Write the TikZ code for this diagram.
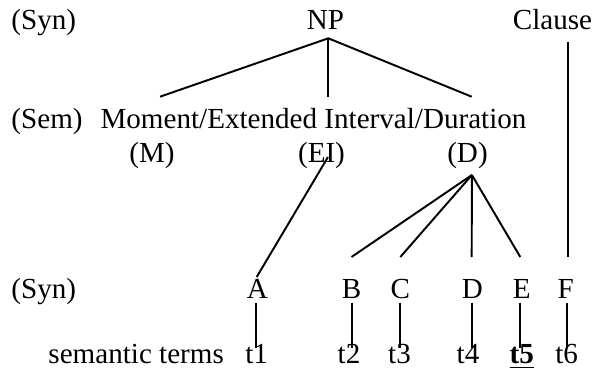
\documentclass[tikz,border=0pt]{standalone}
\usepackage{fontspec}
\setmainfont{Liberation Serif}
\begin{document}
\begin{tikzpicture}[x=0.41237pt,y=-0.41237pt,
  lbl/.style={inner sep=0pt,anchor=base,font=\fontsize{12}{14}\selectfont},
  lblw/.style={inner sep=0pt,anchor=base west,font=\fontsize{12}{14}\selectfont},
  edge/.style={line width=0.8pt,line cap=butt}]
\useasboundingbox (0,0) rectangle (600,371);
% row 1
\node[lblw] (syn1) at (11,29) {(Syn)};
\node[lbl] (np) at (325.5,29) {NP};
\node[lbl] (clause) at (552.5,29) {Clause};
% row 2
\node[lblw] (sem) at (11,128.5) {(Sem)};
\node[lbl] (med) at (313.5,128.5) {Moment/Extended Interval/Duration};
% row 3
\node[lbl] (m) at (152,162) {(M)};
\node[lbl] (ei) at (321.5,162) {(EI)};
\node[lbl] (d) at (467.5,162) {(D)};
% row 4
\node[lblw] (syn2) at (11,298.3) {(Syn)};
\node[lbl] (A) at (257.5,298.3) {A};
\node[lbl] (B) at (351.7,298.3) {B};
\node[lbl] (C) at (400.3,298.3) {C};
\node[lbl] (D) at (472.5,298.3) {D};
\node[lbl] (E) at (521.7,298.3) {E};
\node[lbl] (F) at (565.8,298.3) {F};
% row 5
\node[lblw] (st) at (48,363.3) {semantic terms};
\node[lbl] (t1) at (256.7,363.3) {t1};
\node[lbl] (t2) at (349,363.3) {t2};
\node[lbl] (t3) at (399.5,363.3) {t3};
\node[lbl] (t4) at (468,363.3) {t4};
\node[lbl] (t5) at (521.7,363.3) {\textbf{\underline{t5}}};
\node[lbl] (t6) at (566.7,363.3) {t6};
% coordinates
\coordinate (npa) at (328.3,38.3);
\coordinate (npl) at (160,96.7);
\coordinate (npm) at (328.3,96.7);
\coordinate (npr) at (471.7,96.7);
\coordinate (cla) at (568,41.7);
\coordinate (clb) at (568,257);
\coordinate (eia) at (328,157);
\coordinate (eib) at (256.7,277);
\coordinate (da) at (471.9,175);
\coordinate (db) at (351.5,257);
\coordinate (dc) at (400.3,257);
\coordinate (dd) at (471.7,257);
\coordinate (de) at (520.3,257);
\foreach \n/\x in {a/255.7,b/352.3,c/400.3,d/471.7,e/520,f/567.3}{
  \coordinate (u\n) at (\x,302.7);
  \coordinate (l\n) at (\x,348.3);
}
% connectors
\draw[edge] (npl) -- (npa) -- (npr);
\draw[edge] (npa) -- (npm);
\draw[edge] (cla) -- (clb);
\draw[edge] (eia) -- (eib);
\foreach \t in {db,dc,dd,de}{\draw[edge] (da) -- (\t);}
\foreach \n in {a,b,c,d,e,f}{\draw[edge] (u\n) -- (l\n);}
\end{tikzpicture}
\end{document}
